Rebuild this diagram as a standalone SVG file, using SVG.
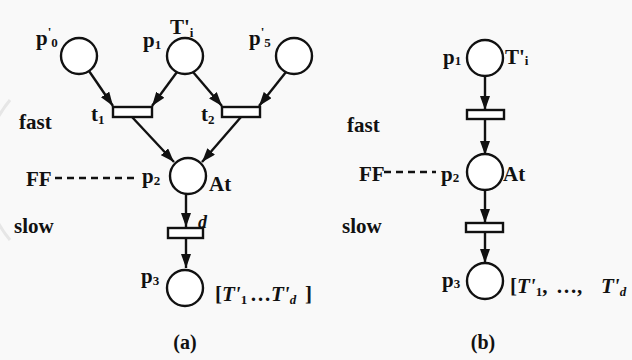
<svg xmlns="http://www.w3.org/2000/svg" width="632" height="360" viewBox="0 0 632 360">
<style>
  .place{fill:#fff;stroke:#111;stroke-width:2.4}
  .trans{fill:#fff;stroke:#111;stroke-width:2.4}
  .arc{stroke:#111;stroke-width:2.4;fill:none;marker-end:url(#ah)}
  .dash{stroke:#111;stroke-width:2.4;stroke-dasharray:7 5;fill:none}
  text{font-family:"Liberation Serif","Times New Roman",serif;fill:#111;font-weight:bold}
  .lbl{font-size:21px}
  .sub{font-size:13px}
  .it{font-style:italic}
  .cap{font-size:20px;text-anchor:middle}
</style>
<defs>
  <marker id="ah" viewBox="0 0 14 10" refX="14" refY="5" markerWidth="14" markerHeight="10" markerUnits="userSpaceOnUse" orient="auto">
    <path d="M0,0 L14,5 L0,10 Z" fill="#111"/>
  </marker>
</defs>
<rect width="632" height="360" fill="#f9f9f9"/>
<path d="M10,240 A110,110 0 0 1 10,100" fill="none" stroke="#e6e6e6" stroke-width="3"/>

<g id="connectors">
  <line class="arc" x1="89" y1="71" x2="113" y2="106"/>
  <line class="arc" x1="177" y1="72" x2="152" y2="106"/>
  <line class="arc" x1="193" y1="72" x2="222" y2="106"/>
  <line class="arc" x1="286" y1="72" x2="259" y2="106"/>
  <line class="arc" x1="132" y1="117" x2="174" y2="162"/>
  <line class="arc" x1="241" y1="117" x2="202" y2="162"/>
  <line class="arc" x1="186" y1="194" x2="186" y2="227"/>
  <line class="arc" x1="186" y1="238" x2="186" y2="268"/>
  <line class="dash" x1="55" y1="178" x2="134" y2="178"/>
  <line class="arc" x1="485" y1="76" x2="485" y2="110"/>
  <line class="arc" x1="485" y1="119" x2="485" y2="155"/>
  <line class="arc" x1="485" y1="190" x2="485" y2="223"/>
  <line class="arc" x1="485" y1="232" x2="485" y2="263"/>
  <line class="dash" x1="384" y1="172" x2="436" y2="172"/>
</g>

<g id="a_p0">
  <circle class="place" cx="79" cy="56" r="18"/>
  <text class="lbl" x="36" y="45">p<tspan class="sub" dy="-9">'</tspan><tspan class="sub" dy="11">0</tspan></text>
</g>
<g id="a_p1">
  <circle class="place" cx="185" cy="56" r="18"/>
  <text class="lbl" x="143" y="47">p<tspan class="sub" dy="2">1</tspan></text>
  <text class="lbl" x="170" y="34">T'<tspan class="sub" dy="3">i</tspan></text>
</g>
<g id="a_p5">
  <circle class="place" cx="294" cy="56" r="18"/>
  <text class="lbl" x="249" y="45">p<tspan class="sub" dy="-9">'</tspan><tspan class="sub" dy="11">5</tspan></text>
</g>
<g id="a_t1">
  <rect class="trans" x="113" y="107" width="39" height="10"/>
  <text class="lbl" x="91" y="121">t<tspan class="sub" dy="3">1</tspan></text>
</g>
<g id="a_t2">
  <rect class="trans" x="222" y="107" width="38" height="10"/>
  <text class="lbl" x="201" y="121">t<tspan class="sub" dy="3">2</tspan></text>
</g>
<g id="a_p2">
  <circle class="place" cx="188" cy="176" r="18"/>
  <text class="lbl" x="142" y="183">p<tspan class="sub" dy="2">2</tspan></text>
  <text class="lbl" x="209" y="191">At</text>
</g>
<g id="a_FF">
  <text class="lbl" x="26" y="186">FF</text>
</g>
<g id="a_td">
  <rect class="trans" x="168" y="228" width="35" height="10"/>
  <text class="it" x="198" y="228" style="font-size:18px">d</text>
</g>
<g id="a_p3">
  <circle class="place" cx="185" cy="288" r="18"/>
  <text class="lbl" x="141" y="283">p<tspan class="sub" dy="2">3</tspan></text>
  <text class="lbl" y="301"><tspan x="215">[</tspan><tspan class="it">T'</tspan><tspan class="sub" dy="3">1</tspan><tspan x="250" dy="-3">…</tspan><tspan class="it" x="271">T'</tspan><tspan class="sub it" dy="3">d</tspan><tspan x="305" dy="-3">]</tspan></text>
</g>
<text class="lbl" x="19" y="129">fast</text>
<text class="lbl" x="14" y="233">slow</text>
<text class="cap" x="185" y="349">(a)</text>

<g id="b_p1">
  <circle class="place" cx="485" cy="58" r="18"/>
  <text class="lbl" x="443" y="64">p<tspan class="sub" dy="1">1</tspan></text>
  <text class="lbl" x="505" y="64">T'<tspan class="sub" dy="1">i</tspan></text>
</g>
<g id="b_t1">
  <rect class="trans" x="467" y="110" width="37" height="9"/>
</g>
<g id="b_p2">
  <circle class="place" cx="485" cy="172" r="18"/>
  <text class="lbl" x="441" y="181">p<tspan class="sub" dy="1">2</tspan></text>
  <text class="lbl" x="503" y="181">At</text>
</g>
<g id="b_FF">
  <text class="lbl" x="359" y="181">FF</text>
</g>
<g id="b_t2">
  <rect class="trans" x="466" y="223" width="37" height="9"/>
</g>
<g id="b_p3">
  <circle class="place" cx="485" cy="281" r="18"/>
  <text class="lbl" x="442" y="287">p<tspan class="sub" dy="1">3</tspan></text>
  <text class="lbl" y="293"><tspan x="510">[</tspan><tspan class="it">T'</tspan><tspan class="sub" dy="3">1</tspan><tspan dy="-3">,</tspan><tspan x="556">…,</tspan><tspan class="it" x="601">T'</tspan><tspan class="sub it" dy="3">d</tspan></text>
</g>
<text class="lbl" x="347" y="132">fast</text>
<text class="lbl" x="342" y="233">slow</text>
<text class="cap" x="483" y="349">(b)</text>
</svg>
